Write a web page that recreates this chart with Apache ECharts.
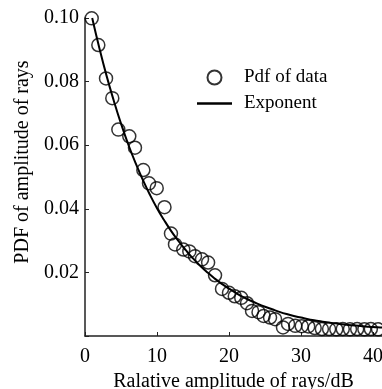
<!DOCTYPE html>
<html><head><meta charset="utf-8">
<script src="https://cdn.jsdelivr.net/npm/echarts@6/dist/echarts.min.js"></script>
<style>html,body{margin:0;padding:0;background:#fff}#c{width:382px;height:389px}</style>
</head><body><div id="c"></div>
<script>
// Data
const dataX = [0.93,1.85,2.92,3.79,4.63,6.15,6.94,8.10,8.89,9.96,11.04,11.94,12.5,13.65,14.49,15.28,16.25,17.1,18.06,19.03,20.0,20.8,21.7,22.5,23.2,24.1,24.8,25.7,26.4,27.5,28.2,29.2,30.1,31.0,31.9,32.9,33.9,34.9,35.8,36.8,37.8,38.8,39.7,40.7];
const dataY = [0.0999,0.0915,0.0810,0.0748,0.0649,0.0628,0.0592,0.0522,0.0480,0.0465,0.0405,0.0322,0.0288,0.0272,0.0266,0.0251,0.0241,0.0231,0.0191,0.0148,0.0136,0.0125,0.0120,0.0103,0.0079,0.0075,0.0063,0.0058,0.0053,0.0027,0.0038,0.0032,0.0031,0.0030,0.0025,0.0022,0.0022,0.0021,0.0022,0.0021,0.0022,0.0021,0.0022,0.0021];
const curveX = [1,2,3,4,5,6,7,8,9,10,11,12,13,14,15,16,17,18,19,20,21,22,23,24,25,26,27,28,29,30,31,32,33,34,35,36,37,38,39,40,41,42];
const curveY = [0.1000,0.0905,0.0818,0.0740,0.0668,0.0603,0.0545,0.0493,0.0445,0.0402,0.0364,0.0329,0.0298,0.0270,0.0244,0.0221,0.0200,0.0181,0.0164,0.0149,0.0135,0.0122,0.0111,0.0101,0.0092,0.0084,0.0076,0.0069,0.0063,0.0058,0.0053,0.0049,0.0045,0.0042,0.0039,0.0036,0.0034,0.0032,0.0030,0.0028,0.0027,0.0026];
const xTitle = 'Ralative amplitude of rays/dB';
const yTitle = 'PDF of amplitude of rays';
const seriesNames = ['Pdf of data','Exponent'];

const font = 'Liberation Serif';
const chart = echarts.init(document.getElementById('c'));
chart.setOption({
  animation:false,
  textStyle:{fontFamily:font},
  grid:{left:85,top:18,right:0,bottom:53,containLabel:false,outerBoundsMode:'none'},
  legend:{
    orient:'vertical', left:192, top:63, itemWidth:35, itemHeight:14, itemGap:7,
    textStyle:{fontFamily:font,fontSize:19,color:'#000',padding:[0,0,0,7]},
    data:[{name:seriesNames[0],icon:'circle'},{name:seriesNames[1],icon:'path://M0,0H35V2.4H0Z'}]
  },
  xAxis:{type:'value',min:0,max:41.25,interval:10,
    name:xTitle,nameLocation:'middle',nameGap:32,
    nameTextStyle:{fontFamily:font,fontSize:20,color:'#000'},
    axisLine:{lineStyle:{color:'#222',width:1.5}},
    axisTick:{inside:true,length:4,lineStyle:{color:'#222'}},
    axisLabel:{fontFamily:font,fontSize:20,color:'#000',margin:11,showMaxLabel:false},
    splitLine:{show:false}},
  yAxis:{type:'value',min:0,max:0.1,interval:0.02,
    name:yTitle,nameLocation:'middle',nameGap:51,
    nameTextStyle:{fontFamily:font,fontSize:20,color:'#000',padding:[0,0,0,30]},
    axisLine:{lineStyle:{color:'#222',width:1.5}},
    axisTick:{inside:true,length:4,lineStyle:{color:'#222'}},
    axisLabel:{fontFamily:font,fontSize:20,color:'#000',margin:6,
      formatter:v=>v===0?'':v.toFixed(2)},
    splitLine:{show:false}},
  series:[
    {name:seriesNames[0],type:'scatter',symbol:'circle',symbolSize:13,
      itemStyle:{color:'rgba(0,0,0,0)',borderColor:'#000',borderWidth:1.5},
      data:dataX.map((x,i)=>[x,dataY[i]]),z:2},
    {name:seriesNames[1],type:'line',smooth:true,symbol:'none',
      lineStyle:{color:'#000',width:2},itemStyle:{color:'#000'},
      data:curveX.map((x,i)=>[x,curveY[i]]),z:3}
  ]
});
</script></body></html>
